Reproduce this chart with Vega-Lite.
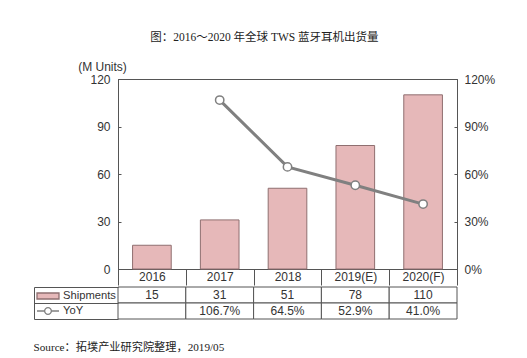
{
  "$schema": "https://vega.github.io/schema/vega-lite/v6.json",
  "background": "white",
  "padding": {"left": 33, "top": 32, "right": 5, "bottom": 5},
  "spacing": 0,
  "title": {"text": "图：2016～2020 年全球 TWS 蓝牙耳机出货量", "anchor": "middle", "font": "Liberation Serif, Noto Sans CJK SC", "fontSize": 11.5, "fontWeight": "normal", "color": "#222", "offset": 16},
  "resolve": {"legend": {"shape": "independent", "fill": "independent", "stroke": "independent"}},
  "datasets": {
    "tws": [
      {"year": "2016", "Shipments": 15, "YoY": null},
      {"year": "2017", "Shipments": 31, "YoY": 1.067},
      {"year": "2018", "Shipments": 51, "YoY": 0.645},
      {"year": "2019(E)", "Shipments": 78, "YoY": 0.529},
      {"year": "2020(F)", "Shipments": 110, "YoY": 0.41}
    ]
  },
  "vconcat": [
    {
      "width": 339,
      "height": 190,
      "data": {"name": "tws"},
      "view": {"stroke": "#555", "strokeWidth": 1},
      "encoding": {
        "x": {"field": "year", "type": "ordinal", "sort": null, "scale": {"paddingInner": 0, "paddingOuter": 0},
          "axis": {"orient": "bottom", "title": null, "tickBand": "extent", "tickSize": 16, "tickColor": "#555", "domainColor": "#555", "labelAngle": 0, "labelPadding": -14, "labelBaseline": "top", "labelFont": "Liberation Sans", "labelFontSize": 12, "labelColor": "#333"}}
      },
      "layer": [
        {
          "mark": {"type": "bar", "width": {"band": 0.57}, "fill": "#e6b8b9", "stroke": "#8f6f70", "strokeWidth": 1},
          "encoding": {
            "y": {"field": "Shipments", "type": "quantitative", "scale": {"domain": [0, 120]},
              "axis": {"orient": "left", "values": [0, 30, 60, 90, 120], "grid": false, "title": "(M Units)", "titleAngle": 0, "titleAlign": "center", "titleBaseline": "bottom", "titleX": -16, "titleY": -6, "titleFont": "Liberation Sans", "titleFontSize": 12, "titleFontWeight": "normal", "titleColor": "#333", "labelFont": "Liberation Sans", "labelFontSize": 12, "labelColor": "#333", "tickSize": -3, "tickColor": "#555", "domainColor": "#555", "labelPadding": 11}}
          }
        },
        {
          "transform": [{"filter": "datum.YoY != null"}],
          "layer": [
            {
              "mark": {"type": "line", "color": "#808080", "strokeWidth": 3},
              "encoding": {
                "y": {"field": "YoY", "type": "quantitative", "scale": {"domain": [0, 1.2]},
                  "axis": {"orient": "right", "values": [0, 0.3, 0.6, 0.9, 1.2], "format": ".0%", "grid": false, "title": null, "labelFont": "Liberation Sans", "labelFontSize": 12, "labelColor": "#333", "tickSize": -3, "tickColor": "#555", "domainColor": "#555", "labelPadding": 10}}
              }
            },
            {
              "mark": {"type": "point", "filled": true, "fill": "white", "stroke": "#808080", "strokeWidth": 1.5, "size": 70, "opacity": 1},
              "encoding": {
                "y": {"field": "YoY", "type": "quantitative"}
              }
            }
          ]
        }
      ],
      "resolve": {"scale": {"y": "independent"}}
    },
    {
      "width": 339,
      "height": 32,
      "data": {"name": "tws"},
      "view": {"stroke": null},
      "title": {"text": "Source：拓墣产业研究院整理，2019/05", "orient": "bottom", "anchor": "start", "frame": "bounds", "offset": 22, "font": "Liberation Serif, Noto Sans CJK SC", "fontSize": 11.2, "fontWeight": "normal", "color": "#222"},
      "transform": [{"fold": ["Shipments", "YoY"], "as": ["series", "value"]}],
      "encoding": {
        "x": {"field": "year", "type": "ordinal", "sort": null, "scale": {"paddingInner": 0, "paddingOuter": 0}, "axis": null},
        "y": {"field": "series", "type": "nominal", "sort": ["Shipments", "YoY"], "scale": {"paddingInner": 0, "paddingOuter": 0},
          "axis": {"orient": "left", "offset": 84, "tickBand": "extent", "tickSize": -84, "labels": false, "title": null, "domainColor": "#555", "tickColor": "#555"}}
      },
      "layer": [
        {"mark": {"type": "rect", "fill": "white", "stroke": "#555", "strokeWidth": 1}},
        {
          "transform": [{"filter": "datum.series === 'Shipments'"}],
          "mark": {"type": "text", "font": "Liberation Sans", "fontSize": 12, "color": "#333"},
          "encoding": {"text": {"field": "value", "type": "quantitative", "format": "d"}}
        },
        {
          "transform": [{"filter": "datum.series === 'YoY' && datum.value != null"}],
          "mark": {"type": "text", "font": "Liberation Sans", "fontSize": 12, "color": "#333"},
          "encoding": {"text": {"field": "value", "type": "quantitative", "format": ".1%"}}
        },
        {
          "mark": {"type": "point", "filled": true, "opacity": 0},
          "encoding": {
            "shape": {"field": "series", "type": "nominal", "scale": {"domain": ["Shipments", "YoY"], "range": ["M-1.375,-0.375H1.375V0.375H-1.375Z", "M-1.375,0H-0.42M0.42,0H1.375M0.42,0A0.42,0.42,0,1,1,-0.42,0A0.42,0.42,0,1,1,0.42,0"]},
              "legend": {"orient": "none", "legendX": -79, "legendY": 0, "title": null, "symbolSize": 256, "symbolOpacity": 1, "symbolStrokeWidth": 1.3, "labelFont": "Liberation Sans", "labelFontSize": 11.2, "labelColor": "#333", "labelOffset": 6, "rowPadding": 0, "padding": 0}},
            "fill": {"field": "series", "type": "nominal", "scale": {"domain": ["Shipments", "YoY"], "range": ["#e6b8b9", "#ffffff"]},
              "legend": {"orient": "none", "legendX": -79, "legendY": 0, "title": null, "symbolSize": 256, "symbolOpacity": 1, "symbolStrokeWidth": 1.3, "labelFont": "Liberation Sans", "labelFontSize": 11.2, "labelColor": "#333", "labelOffset": 6, "rowPadding": 0, "padding": 0}},
            "stroke": {"field": "series", "type": "nominal", "scale": {"domain": ["Shipments", "YoY"], "range": ["#8f6f70", "#808080"]},
              "legend": {"orient": "none", "legendX": -79, "legendY": 0, "title": null, "symbolSize": 256, "symbolOpacity": 1, "symbolStrokeWidth": 1.3, "labelFont": "Liberation Sans", "labelFontSize": 11.2, "labelColor": "#333", "labelOffset": 6, "rowPadding": 0, "padding": 0}}
          }
        }
      ]
    }
  ]
}
